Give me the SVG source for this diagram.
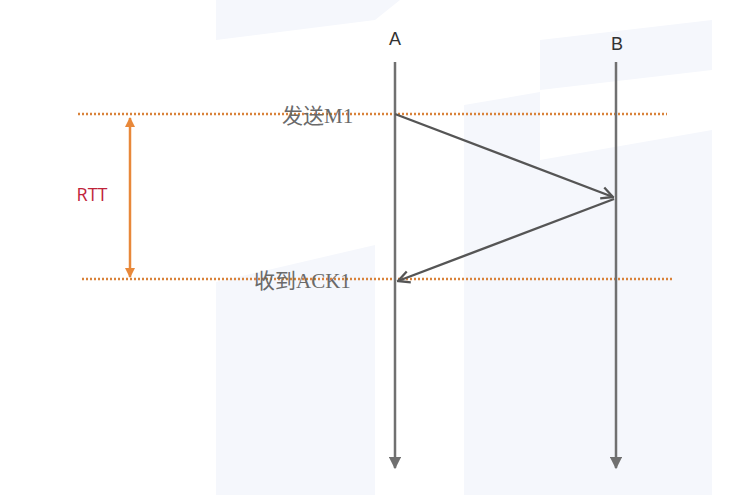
<svg xmlns="http://www.w3.org/2000/svg" width="731" height="495" viewBox="0 0 731 495">
<style>
.life{stroke:#707070;stroke-width:2.5;fill:none}
.msg{stroke:#555;stroke-width:2.4;fill:none}
.dot{stroke:#d9823a;stroke-width:2.5;stroke-dasharray:2 2;fill:none}
.lbl{font-family:"Liberation Sans",Arial,sans-serif;font-size:18px;fill:#333;text-anchor:middle}
.cn{font-family:"Liberation Serif","Noto Sans CJK SC",serif;font-size:21px;fill:#6a6a6a}
.wm{fill:#f5f7fc}
</style>
<defs>
<marker id="tri" viewBox="0 0 10 10" refX="9" refY="5" markerWidth="5" markerHeight="5" orient="auto" markerUnits="strokeWidth">
<path d="M0,0 L10,5 L0,10 z" fill="#707070"/>
</marker>
<marker id="open" viewBox="0 0 10 10" refX="9" refY="5" markerWidth="6" markerHeight="6" orient="auto" markerUnits="strokeWidth">
<path d="M1,1 L9,5 L1,9" fill="none" stroke="#555" stroke-width="1.6"/>
</marker>
<marker id="org" viewBox="0 0 10 10" refX="9" refY="5" markerWidth="4" markerHeight="4" orient="auto-start-reverse" markerUnits="strokeWidth">
<path d="M0,0 L10,5 L0,10 z" fill="#e8883a"/>
</marker>
</defs>
<rect width="731" height="495" fill="#ffffff"/>
<g id="watermark">
<polygon class="wm" points="216,0 400,0 375,20 216,40"/>
<polygon class="wm" points="216,282 375,245 375,495 216,495"/>
<polygon class="wm" points="464,105 540,92 540,495 464,495"/>
<polygon class="wm" points="540,160 712,130 712,495 540,495"/>
<polygon class="wm" points="540,40 712,20 712,70 540,90"/>
</g>
<g id="guides">
<line class="dot" x1="78" y1="114" x2="667" y2="114"/>
<line class="dot" x1="82" y1="279" x2="672" y2="279"/>
</g>
<g id="node-A">
<text class="lbl" x="395" y="45">A</text>
<line class="life" x1="395" y1="62" x2="395" y2="468" marker-end="url(#tri)"/>
</g>
<g id="node-B">
<text class="lbl" x="617" y="50">B</text>
<line class="life" x1="616" y1="62" x2="616" y2="468" marker-end="url(#tri)"/>
</g>
<g id="rtt">
<line x1="130" y1="118" x2="130" y2="277" stroke="#e8883a" stroke-width="2.5" marker-start="url(#org)" marker-end="url(#org)"/>
<text x="92" y="201" font-family="'Open Sans','Liberation Sans',sans-serif" font-size="18" fill="#c0243a" text-anchor="middle">RTT</text>
</g>
<g id="connectors">
<line class="msg" x1="395" y1="114" x2="613" y2="197" marker-end="url(#open)"/>
<line class="msg" x1="614" y1="199" x2="398" y2="281" marker-end="url(#open)"/>
</g>
<g id="labels">
<text class="cn" x="282" y="123">发送M1</text>
<text class="cn" x="254" y="288">收到ACK1</text>
</g>
</svg>
